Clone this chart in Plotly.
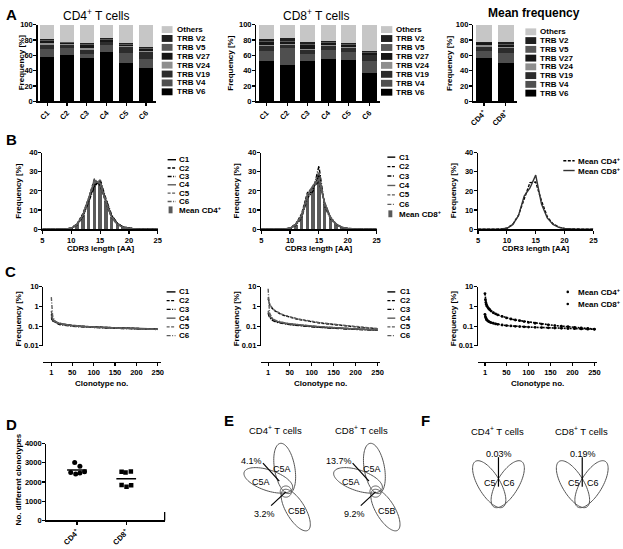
import numpy as np
import plotly.graph_objects as go

W, H = 623, 549
FONT = "Liberation Sans"

# ---------------- Panel A data (stacked TRBV usage, %) ----------------
clones = ["C1", "C2", "C3", "C4", "C5", "C6"]
segments = ["TRB V6", "TRB V4", "TRB V19", "TRB V24", "TRB V27", "TRB V5", "TRB V2", "Others"]
cd4_v6 = [58, 61, 57, 65, 50, 44]
cd4_v4 = [10, 8, 5, 8, 13, 11]
cd4_v19 = [6, 5, 5, 4, 8, 9]
cd4_v24 = [1.5, 1, 2, 1, 1, 1.5]
cd4_v27 = [3, 1.5, 5, 2, 2, 3]
cd4_v5 = [1, 1, 1, 1, 1, 1]
cd4_v2 = [1.5, 0.5, 1.5, 1.5, 1, 1]
cd4_others = [19, 22, 23.5, 17.5, 24, 29.5]

cd8_v6 = [52, 47, 52, 55, 54, 37]
cd8_v4 = [14, 23, 10, 12, 10, 16]
cd8_v19 = [6.5, 4, 5, 5, 6, 7]
cd8_v24 = [1.5, 1, 1.5, 1.5, 1.5, 1]
cd8_v27 = [4, 3, 5.5, 3, 2, 2]
cd8_v5 = [1, 1, 1, 1, 1, 1]
cd8_v2 = [2, 3.5, 2.5, 1.5, 1.5, 2]
cd8_others = [19, 17.5, 22.5, 21, 24, 34]

mean_groups = ["CD4", "CD8"]
mean_group_labels = ["CD4<sup>+</sup>", "CD8<sup>+</sup>"]
mean_v6 = [56, 49.5]
mean_v4 = [9.5, 14]
mean_v19 = [6, 5.5]
mean_v24 = [1.5, 1.5]
mean_v27 = [2.5, 3.5]
mean_v5 = [1, 1]
mean_v2 = [1, 2]
mean_others = [22.5, 23]

seg_colors = ["#000000", "#4f4f4f", "#2c2c2c", "#8e8e8e", "#161616", "#585858", "#1f1f1f", "#c6c6c6"]

# ---------------- Panel B data (CDR3 length distribution, %) ----------------
lengths = list(range(5, 26))
cd4_len_c1 = [0, 0, 0, 0, 0.1, 0.5, 2.5, 7.0, 15.0, 23.0, 25.0, 15.0, 7.0, 3.0, 1.2, 0.5, 0.2, 0.1, 0, 0, 0]
cd4_len_c2 = [0, 0, 0, 0, 0.1, 0.6, 2.8, 8.0, 16.0, 26.0, 23.0, 14.0, 6.0, 2.5, 1.0, 0.4, 0.1, 0, 0, 0, 0]
cd4_len_c3 = [0, 0, 0, 0, 0.1, 0.4, 2.2, 6.5, 14.0, 22.0, 26.0, 16.0, 7.5, 3.0, 1.2, 0.5, 0.2, 0.1, 0, 0, 0]
cd4_len_c4 = [0, 0, 0, 0, 0.1, 0.5, 2.6, 7.5, 16.0, 25.0, 24.0, 14.0, 6.0, 2.5, 1.0, 0.4, 0.1, 0, 0, 0, 0]
cd4_len_c5 = [0, 0, 0, 0, 0.1, 0.5, 2.4, 7.0, 15.0, 24.0, 25.5, 15.0, 6.5, 2.8, 1.1, 0.4, 0.2, 0.1, 0, 0, 0]
cd4_len_c6 = [0, 0, 0, 0, 0.1, 0.6, 2.5, 7.2, 15.5, 26.0, 24.0, 14.5, 6.8, 2.7, 1.0, 0.4, 0.1, 0, 0, 0, 0]
cd4_len_mean = [0, 0, 0, 0, 0.1, 0.5, 2.5, 7.2, 15.3, 24.3, 24.6, 14.8, 6.5, 2.8, 1.1, 0.4, 0.15, 0.05, 0, 0, 0]

cd8_len_c1 = [0, 0, 0, 0, 0.1, 0.5, 2.5, 7.0, 17.0, 21.0, 28.0, 13.0, 6.0, 2.5, 1.0, 0.4, 0.1, 0, 0, 0, 0]
cd8_len_c2 = [0, 0, 0, 0, 0.1, 0.6, 2.8, 8.0, 19.0, 22.0, 25.0, 14.0, 6.0, 2.5, 1.0, 0.4, 0.1, 0, 0, 0, 0]
cd8_len_c3 = [0, 0, 0, 0, 0.1, 0.4, 2.0, 6.0, 16.0, 20.0, 33.0, 12.0, 5.5, 2.4, 1.0, 0.4, 0.1, 0, 0, 0, 0]
cd8_len_c4 = [0, 0, 0, 0, 0.1, 0.5, 2.4, 7.5, 18.0, 23.0, 26.0, 13.5, 6.0, 2.5, 1.0, 0.4, 0.1, 0, 0, 0, 0]
cd8_len_c5 = [0, 0, 0, 0, 0.1, 0.5, 2.3, 6.5, 16.0, 22.0, 30.0, 12.5, 5.5, 2.2, 0.9, 0.3, 0.1, 0, 0, 0, 0]
cd8_len_c6 = [0, 0, 0, 0, 0.1, 0.6, 2.6, 7.0, 17.5, 21.0, 27.0, 14.0, 6.5, 2.8, 1.1, 0.4, 0.1, 0, 0, 0, 0]
cd8_len_mean = [0, 0, 0, 0, 0.1, 0.5, 2.4, 7.0, 17.3, 21.5, 28.2, 13.2, 5.9, 2.5, 1.0, 0.4, 0.1, 0, 0, 0, 0]

# ---------------- Panel C data (clonotype frequency, %) ----------------
ranks = [1, 2, 3, 4, 5, 6, 8, 10, 12, 15, 20, 25, 30, 40, 50, 60, 70, 80, 90, 100,
         115, 130, 145, 160, 175, 190, 205, 220, 235, 250]
cd4_clo_c1 = [0.30, 0.25, 0.22, 0.20, 0.19, 0.18, 0.17, 0.16, 0.15, 0.14, 0.13, 0.125, 0.12, 0.11, 0.105,
              0.10, 0.097, 0.094, 0.092, 0.09, 0.087, 0.085, 0.083, 0.081, 0.079, 0.077, 0.075, 0.074, 0.072, 0.071]
cd4_clo_c2 = [0.40, 0.30, 0.26, 0.23, 0.21, 0.20, 0.18, 0.17, 0.16, 0.15, 0.14, 0.13, 0.125, 0.115, 0.108,
              0.103, 0.099, 0.096, 0.093, 0.091, 0.088, 0.085, 0.083, 0.081, 0.079, 0.077, 0.075, 0.073, 0.071, 0.07]
cd4_clo_c3 = [0.25, 0.22, 0.20, 0.19, 0.18, 0.17, 0.16, 0.15, 0.14, 0.13, 0.12, 0.115, 0.11, 0.103, 0.098,
              0.094, 0.091, 0.088, 0.086, 0.084, 0.082, 0.08, 0.078, 0.076, 0.074, 0.073, 0.071, 0.07, 0.069, 0.068]
cd4_clo_c4 = [0.35, 0.28, 0.24, 0.22, 0.20, 0.19, 0.18, 0.165, 0.155, 0.145, 0.135, 0.128, 0.122, 0.113, 0.106,
              0.101, 0.097, 0.094, 0.091, 0.089, 0.086, 0.084, 0.082, 0.08, 0.078, 0.076, 0.074, 0.073, 0.071, 0.07]
cd4_clo_c5 = [0.6, 0.35, 0.28, 0.24, 0.22, 0.20, 0.185, 0.17, 0.16, 0.15, 0.14, 0.13, 0.124, 0.115, 0.108,
              0.102, 0.098, 0.095, 0.092, 0.09, 0.087, 0.084, 0.082, 0.08, 0.078, 0.076, 0.074, 0.072, 0.07, 0.069]
cd4_clo_c6 = [3.0, 1.0, 0.5, 0.35, 0.28, 0.24, 0.2, 0.18, 0.165, 0.15, 0.138, 0.128, 0.12, 0.11, 0.103,
              0.098, 0.094, 0.091, 0.088, 0.086, 0.083, 0.081, 0.079, 0.077, 0.075, 0.073, 0.071, 0.07, 0.068, 0.067]

cd8_clo_c1 = [0.5, 0.4, 0.35, 0.32, 0.3, 0.28, 0.25, 0.23, 0.21, 0.19, 0.17, 0.16, 0.15, 0.135, 0.125,
              0.117, 0.11, 0.105, 0.1, 0.096, 0.09, 0.085, 0.081, 0.078, 0.075, 0.072, 0.07, 0.067, 0.065, 0.063]
cd8_clo_c2 = [2.5, 1.8, 1.5, 1.3, 1.15, 1.05, 0.9, 0.8, 0.72, 0.62, 0.52, 0.45, 0.4, 0.33, 0.28,
              0.245, 0.22, 0.2, 0.18, 0.165, 0.148, 0.134, 0.122, 0.112, 0.104, 0.096, 0.089, 0.083, 0.078, 0.073]
cd8_clo_c3 = [0.45, 0.35, 0.31, 0.28, 0.26, 0.24, 0.22, 0.2, 0.19, 0.175, 0.16, 0.15, 0.14, 0.128, 0.119,
              0.112, 0.106, 0.101, 0.097, 0.093, 0.088, 0.083, 0.079, 0.076, 0.073, 0.07, 0.067, 0.065, 0.063, 0.061]
cd8_clo_c4 = [0.6, 0.45, 0.38, 0.34, 0.31, 0.29, 0.26, 0.24, 0.22, 0.2, 0.18, 0.165, 0.155, 0.14, 0.13,
              0.122, 0.115, 0.109, 0.104, 0.1, 0.094, 0.089, 0.084, 0.08, 0.077, 0.074, 0.071, 0.068, 0.066, 0.064]
cd8_clo_c5 = [3.0, 2.0, 1.6, 1.35, 1.2, 1.1, 0.95, 0.85, 0.76, 0.66, 0.55, 0.48, 0.42, 0.35, 0.3,
              0.26, 0.23, 0.21, 0.19, 0.175, 0.155, 0.14, 0.128, 0.117, 0.108, 0.1, 0.093, 0.086, 0.08, 0.075]
cd8_clo_c6 = [8.0, 1.5, 0.7, 0.5, 0.42, 0.37, 0.31, 0.27, 0.24, 0.21, 0.19, 0.175, 0.16, 0.145, 0.134,
              0.125, 0.118, 0.112, 0.107, 0.102, 0.096, 0.09, 0.086, 0.082, 0.078, 0.075, 0.072, 0.069, 0.066, 0.064]

mean_clo_cd4 = [0.4, 0.3, 0.26, 0.23, 0.21, 0.2, 0.18, 0.17, 0.16, 0.15, 0.14, 0.13, 0.124, 0.114, 0.107,
                0.102, 0.098, 0.095, 0.092, 0.09, 0.087, 0.084, 0.082, 0.08, 0.078, 0.076, 0.074, 0.072, 0.07, 0.069]
mean_clo_cd8 = [4.5, 2.2, 1.6, 1.3, 1.1, 1.0, 0.85, 0.75, 0.68, 0.58, 0.48, 0.42, 0.37, 0.31, 0.26,
                0.23, 0.205, 0.19, 0.17, 0.155, 0.14, 0.127, 0.116, 0.107, 0.1, 0.093, 0.087, 0.081, 0.076, 0.071]

# ---------------- Panel D data (number of clonotypes) ----------------
d_groups = ["CD4<sup>+</sup>", "CD8<sup>+</sup>"]
cd4_counts = [3020, 2820, 2500, 2420, 2470, 2540]
cd8_counts = [2540, 2500, 2550, 1760, 1830, 1840]
cd4_jitter = [-0.046, 0.06, -0.126, -0.026, 0.06, 0.154]
cd8_jitter = [-0.094, -0.014, 0.094, 0.006, 0.1, -0.094]

# ---------------- Panels E/F text ----------------
e_overlap_cd4 = ["4.1%", "3.2%"]
e_overlap_cd8 = ["13.7%", "9.2%"]
f_overlap = ["0.03%", "0.19%"]

# =================================================================
fig = go.Figure()
layout_axes = {}
annotations = []
shapes = []

TICK = 7.5


def add_axes(n, xdom, ydom, xkw, ykw):
    xs = "xaxis" if n == 1 else f"xaxis{n}"
    ys = "yaxis" if n == 1 else f"yaxis{n}"
    xr = "x" if n == 1 else f"x{n}"
    yr = "y" if n == 1 else f"y{n}"
    base = dict(showline=True, linecolor="black", linewidth=1.3, ticks="outside", ticklen=3,
                tickwidth=1.2, tickcolor="black", showgrid=False, zeroline=False,
                tickfont=dict(family=FONT, size=TICK, color="black", weight="bold"))
    layout_axes[xs] = {**base, "domain": [xdom[0] / W, xdom[1] / W], "anchor": yr, **xkw}
    layout_axes[ys] = {**base, "domain": [1 - ydom[1] / H, 1 - ydom[0] / H], "anchor": xr,
                       "ticklabelstandoff": -1, **ykw}
    return xr, yr


def ann(x, y, text, size=8, bold=True, xanchor="center", yanchor="middle", angle=0):
    annotations.append(dict(x=x / W, y=1 - y / H, xref="paper", yref="paper", text=text,
                            showarrow=False, xanchor=xanchor, yanchor=yanchor, textangle=angle,
                            borderpad=0,
                            font=dict(family=FONT, size=size, color="black",
                                      weight="bold" if bold else "normal")))


def seg(x0, y0, x1, y1, color="black", w=1.0, dash="solid"):
    shapes.append(dict(type="line", x0=x0 / W, y0=1 - y0 / H, x1=x1 / W, y1=1 - y1 / H,
                       xref="paper", yref="paper", line=dict(color=color, width=w, dash=dash)))


def box(x0, y0, x1, y1, color):
    shapes.append(dict(type="rect", x0=x0 / W, y0=1 - y1 / H, x1=x1 / W, y1=1 - y0 / H,
                       xref="paper", yref="paper", fillcolor=color, line=dict(width=0)))


def dot(x, y, r, color="black"):
    shapes.append(dict(type="circle", x0=(x - r) / W, y0=1 - (y + r) / H, x1=(x + r) / W,
                       y1=1 - (y - r) / H, xref="paper", yref="paper", fillcolor=color,
                       line=dict(width=0)))


def ell(cx, cy, a, b, ang, color="#555555", w=1.0):
    t = np.linspace(0, 2 * np.pi, 81)
    th = np.radians(ang)
    xs = cx + a * np.cos(t) * np.cos(th) - b * np.sin(t) * np.sin(th)
    ys = cy + a * np.cos(t) * np.sin(th) + b * np.sin(t) * np.cos(th)
    path = "M " + " L ".join(f"{x / W:.5f},{1 - y / H:.5f}" for x, y in zip(xs, ys)) + " Z"
    shapes.append(dict(type="path", path=path, xref="paper", yref="paper",
                       line=dict(color=color, width=w)))


# ---------------- Panel A ----------------
ya = dict(range=[0, 100], tickvals=[0, 20, 40, 60, 80, 100])
xa = dict(type="category", tickangle=-45)
a1 = add_axes(1, (33, 153), (21, 99), xa, ya)
a2 = add_axes(2, (255, 380), (21, 99), xa, ya)
a3 = add_axes(3, (475, 519), (21, 99),
              dict(type="category", tickangle=-45, tickvals=mean_groups, ticktext=mean_group_labels), ya)

cd4_stack = [cd4_v6, cd4_v4, cd4_v19, cd4_v24, cd4_v27, cd4_v5, cd4_v2, cd4_others]
cd8_stack = [cd8_v6, cd8_v4, cd8_v19, cd8_v24, cd8_v27, cd8_v5, cd8_v2, cd8_others]
mean_stack = [mean_v6, mean_v4, mean_v19, mean_v24, mean_v27, mean_v5, mean_v2, mean_others]
for (xr, yr), cats, stack, wd in [(a1, clones, cd4_stack, 0.7), (a2, clones, cd8_stack, 0.72),
                                  (a3, mean_groups, mean_stack, 0.73)]:
    for name, vals, col in zip(segments, stack, seg_colors):
        fig.add_trace(go.Bar(x=cats, y=vals, name=name, marker=dict(color=col, line=dict(width=0)),
                             width=wd, xaxis=xr, yaxis=yr, showlegend=False))

ann(93, 11, "CD4<sup>+</sup> T cells", size=12, bold=False)
ann(316, 11, "CD8<sup>+</sup> T cells", size=12, bold=False)
ann(537, 9, "Mean frequency", size=12, bold=True)
for xt in (16.5, 228, 450.5):
    ann(xt, 60, "Frequency [%]", size=8, angle=-90)

legend_specs = [(159, 170, 173, 26, 9.04), (381.5, 393, 396, 26, 9.1), (528, 539, 542, 28.3, 8.9)]
for sx0, sx1, tx, y0, dy in legend_specs:
    for i, (name, col) in enumerate(zip(segments[::-1], seg_colors[::-1])):
        yy = y0 + i * dy
        box(sx0, yy - 3.5, sx1, yy + 3.5, col)
        ann(tx, yy, name, size=8, xanchor="left")

# ---------------- Panel B ----------------
line_styles = [("black", "solid"), ("black", "3px,1.5px"), ("black", "4px,1.5px,1px,1.5px"),
               ("#5c5c5c", "solid"), ("#5c5c5c", "3px,1.5px"), ("#5c5c5c", "4px,1.5px,1px,1.5px")]
c_names = ["C1", "C2", "C3", "C4", "C5", "C6"]
xb = dict(range=[5, 25], tickvals=[5, 10, 15, 20, 25])
yb = dict(range=[0, 40], tickvals=[0, 10, 20, 30, 40])
b1 = add_axes(4, (38, 155), (151, 229), xb, yb)
b2 = add_axes(5, (260, 377), (151, 229), xb, yb)
b3 = add_axes(6, (480, 597), (151, 229), xb, yb)

cd4_len = [cd4_len_c1, cd4_len_c2, cd4_len_c3, cd4_len_c4, cd4_len_c5, cd4_len_c6]
cd8_len = [cd8_len_c1, cd8_len_c2, cd8_len_c3, cd8_len_c4, cd8_len_c5, cd8_len_c6]
for (xr, yr), series, mean in [(b1, cd4_len, cd4_len_mean), (b2, cd8_len, cd8_len_mean)]:
    fig.add_trace(go.Bar(x=lengths, y=mean, width=0.62, marker=dict(color="#5a5a5a", line=dict(width=0)),
                         xaxis=xr, yaxis=yr, showlegend=False))
    for vals, (col, dash) in zip(series, line_styles):
        fig.add_trace(go.Scatter(x=lengths, y=vals, mode="lines", line=dict(color=col, dash=dash, width=1.4),
                                 xaxis=xr, yaxis=yr, showlegend=False))
fig.add_trace(go.Scatter(x=lengths, y=cd4_len_mean, mode="lines", line=dict(color="black", dash="3px,1.5px", width=1.4),
                         xaxis=b3[0], yaxis=b3[1], showlegend=False))
fig.add_trace(go.Scatter(x=lengths, y=cd8_len_mean, mode="lines", line=dict(color="#333333", width=1.4),
                         xaxis=b3[0], yaxis=b3[1], showlegend=False))

for xt in (14, 235, 455):
    ann(xt, 190, "Frequency [%]", size=8, angle=-90)
for xc in (96.5, 318.5, 538.5):
    ann(xc, 249, "CDR3 length [AA]", size=8)

for lx0, lx1, tx, y0, dy, last in [(165, 173.5, 175.5, 158.3, 8.5, "Mean CD4<sup>+</sup>"),
                                   (388, 396, 399, 155.7, 9.6, "Mean CD8<sup>+</sup>")]:
    for i, (name, (col, dash)) in enumerate(zip(c_names, line_styles)):
        yy = y0 + i * dy
        seg(lx0, yy, lx1, yy, color=col, w=1.4, dash=dash)
        ann(tx, yy, name, size=8, xanchor="left")
    yy = y0 + 6 * dy
    box(lx0 + 1, yy - 3.5, lx0 + 5, yy + 3.5, "#5a5a5a")
    ann(tx, yy, last, size=8, xanchor="left")
seg(566.5, 159.3, 578, 159.3, color="black", w=1.4, dash="3px,1.5px")
ann(580.5, 159.3, "Mean CD4<sup>+</sup>", size=8, xanchor="left")
seg(566.5, 169.3, 578, 169.3, color="#333333", w=1.4)
ann(580.5, 169.3, "Mean CD8<sup>+</sup>", size=8, xanchor="left")

# ---------------- Panel C ----------------
yc = dict(type="log", range=[-2, 1], tickvals=[0.01, 0.1, 1, 10], ticktext=["0.01", "0.1", "1", "10"])
xc_ticks = dict(tickvals=[1, 50, 100, 150, 200, 250], anchor="free", position=1 - 364 / H)
c1 = add_axes(7, (39, 158), (287.5, 347.5), {**xc_ticks, "range": [-17.4, 256.9]}, yc)
c2 = add_axes(8, (260, 381), (287.5, 347.5), {**xc_ticks, "range": [-14.7, 256.7]}, yc)
c3 = add_axes(9, (480, 601), (287.5, 347.5), {**xc_ticks, "range": [-14.7, 256.7]}, yc)

cd4_clo = [cd4_clo_c1, cd4_clo_c2, cd4_clo_c3, cd4_clo_c4, cd4_clo_c5, cd4_clo_c6]
cd8_clo = [cd8_clo_c1, cd8_clo_c2, cd8_clo_c3, cd8_clo_c4, cd8_clo_c5, cd8_clo_c6]
for (xr, yr), series in [(c1, cd4_clo), (c2, cd8_clo)]:
    for vals, (col, dash) in zip(series, line_styles):
        fig.add_trace(go.Scatter(x=ranks, y=vals, mode="lines", line=dict(color=col, dash=dash, width=1.4),
                                 xaxis=xr, yaxis=yr, showlegend=False))
for vals in (mean_clo_cd4, mean_clo_cd8):
    fig.add_trace(go.Scatter(x=ranks, y=vals, mode="lines+markers", marker=dict(color="black", size=2.8),
                             line=dict(color="black", width=1.6, dash="2px,1px"),
                             xaxis=c3[0], yaxis=c3[1], showlegend=False))

for xt in (14, 235, 455):
    ann(xt, 320, "Frequency [%]", size=8, angle=-90)
for xc in (98, 320, 540):
    ann(xc, 385.5, "Clonotype no.", size=8)

for lx0, lx1, tx in [(164, 173, 175.5), (388, 396, 399.5)]:
    for i, (name, (col, dash)) in enumerate(zip(c_names, line_styles)):
        yy = 292.7 + i * 8.9
        seg(lx0, yy, lx1, yy, color=col, w=1.4, dash=dash)
        ann(tx, yy, name, size=8, xanchor="left")
dot(571, 292.7, 1.3)
ann(580.5, 292.7, "Mean CD4<sup>+</sup>", size=8, xanchor="left")
dot(571, 305, 1.3)
ann(580.5, 305, "Mean CD8<sup>+</sup>", size=8, xanchor="left")

# ---------------- Panel D ----------------
d = add_axes(10, (42, 162), (447, 525),
             dict(range=[0.38, 2.78], tickvals=[1, 2], ticktext=d_groups, tickangle=-45),
             dict(range=[0, 4000], tickvals=[0, 1000, 2000, 3000, 4000]))
fig.add_trace(go.Scatter(x=[1 + j for j in cd4_jitter], y=cd4_counts, mode="markers",
                         marker=dict(symbol="circle", size=5, color="black"),
                         xaxis=d[0], yaxis=d[1], showlegend=False))
fig.add_trace(go.Scatter(x=[2 + j for j in cd8_jitter], y=cd8_counts, mode="markers",
                         marker=dict(symbol="square", size=4.5, color="black"),
                         xaxis=d[0], yaxis=d[1], showlegend=False))
for g, vals in [(1, cd4_counts), (2, cd8_counts)]:
    m = float(np.mean(vals))
    fig.add_trace(go.Scatter(x=[g - 0.2, g + 0.2], y=[m, m], mode="lines", line=dict(color="black", width=1.3),
                             xaxis=d[0], yaxis=d[1], showlegend=False))
seg(162, 516.5, 162, 525, w=1.3)
ann(13.5, 483, "No. different clonotypes", size=8, angle=-90)

# ---------------- Panel E ----------------
for k, (dx, labels) in enumerate([(0, e_overlap_cd4), (91, e_overlap_cd8)]):
    ell(283.8 + dx, 472.2, 25.9, 10.3, 80)
    ell(267.2 + dx, 484.3, 25.9, 10.5, 18.8)
    ell(295 + dx, 514.5, 24, 9.5, 59)
    ell(285 + dx, 495.7, 5.7, 5.7, 0)
    seg(261.7 + dx, 466.7, 278.3 + dx, 485, w=1.2)
    seg(270 + dx, 510, 285 + dx, 496, w=1.2)
    ann(281 + dx, 472.5, "C5A", size=9, bold=False)
    ann(260 + dx, 486, "C5A", size=9, bold=False)
    ann(296.5 + dx, 515.5, "C5B", size=9, bold=False)
    ann(262 + dx, 464.3, labels[0], size=9, bold=False, xanchor="right")
    ann(275 + dx, 519, labels[1], size=9, bold=False, xanchor="right")
ann(274, 433.5, "CD4<sup>+</sup> T cells", size=9.5, bold=False)
ann(362, 433.5, "CD8<sup>+</sup> T cells", size=9.5, bold=False)

# ---------------- Panel F ----------------
for k, dx in enumerate([0, 85]):
    ell(491.3 + dx, 488.2, 27.1, 11, 58.9)
    ell(510.1 + dx, 488.2, 27.1, 11, 121.1)
    seg(500.7 + dx, 460.7, 500.7 + dx, 490.7, w=1.2)
    ann(501.7 + dx, 457.3, f_overlap[k], size=9, bold=False)
    ann(492.5 + dx, 486.5, "C5", size=9, bold=False)
    ann(511.5 + dx, 486.5, "C6", size=9, bold=False)
ann(499.5, 434, "CD4<sup>+</sup> T cells", size=9.5, bold=False)
ann(585, 434, "CD8<sup>+</sup> T cells", size=9.5, bold=False)

# ---------------- Panel letters ----------------
for lx, ly, letter in [(7, 11, "A"), (7, 138, "B"), (6, 272, "C"), (7, 428, "D"), (227, 423, "E"), (427, 423, "F")]:
    ann(lx, ly, letter, size=15, bold=True)

fig.update_layout(width=W, height=H, margin=dict(l=0, r=0, t=0, b=0), autosize=False,
                  paper_bgcolor="white", plot_bgcolor="white", barmode="stack", showlegend=False,
                  font=dict(family=FONT, color="black"), hovermode=False,
                  annotations=annotations, shapes=shapes, **layout_axes)
fig.write_html("out.html", config={"displayModeBar": False, "staticPlot": True},
               post_script="document.body.style.margin='0px';")
